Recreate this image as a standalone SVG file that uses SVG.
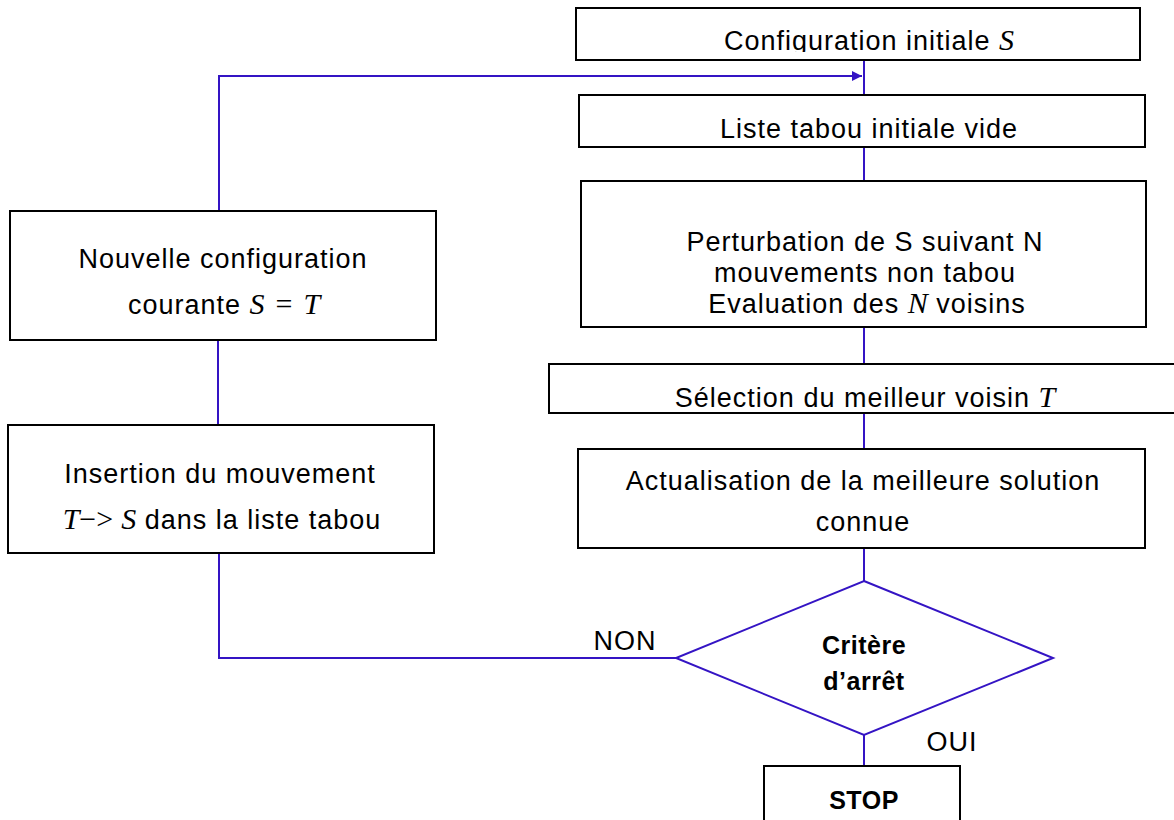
<svg xmlns="http://www.w3.org/2000/svg" width="1174" height="820" viewBox="0 0 1174 820">
  <defs>
    <marker id="arrow" viewBox="0 0 10 10" refX="10" refY="5" markerWidth="5" markerHeight="5" orient="auto" markerUnits="strokeWidth">
      <path d="M0,0 L10,5 L0,10 z" fill="#3414c4"/>
    </marker>
    <clipPath id="clipTop">
      <rect x="576" y="8" width="564" height="44"/>
    </clipPath>
  </defs>
  <style>
    .box { fill: #ffffff; stroke: #000000; stroke-width: 2; }
    .diamond { fill: #ffffff; stroke: #3414c4; stroke-width: 2; }
    .conn { fill: none; stroke: #3414c4; stroke-width: 2; }
    .t { font-family: "Liberation Sans", Arial, sans-serif; font-size: 27px; letter-spacing: 1px; fill: #000000; text-anchor: middle; }
    .b { font-weight: bold; font-size: 25px; letter-spacing: 0.5px; }
    .m { font-family: "Liberation Serif", "Times New Roman", serif; font-style: italic; font-size: 30px; letter-spacing: 0; }
    .op { font-family: "Liberation Serif", "Times New Roman", serif; font-style: normal; font-size: 30px; letter-spacing: 0; }
  </style>

  <rect width="1174" height="820" fill="#ffffff"/>

  <!-- connectors -->
  <g id="connectors">
    <line class="conn" x1="864" y1="60" x2="864" y2="95"/>
    <polyline class="conn" points="219,211 219,76 862,76" marker-end="url(#arrow)"/>
    <line class="conn" x1="864" y1="147" x2="864" y2="181"/>
    <line class="conn" x1="864" y1="327" x2="864" y2="364"/>
    <line class="conn" x1="864" y1="413" x2="864" y2="449"/>
    <line class="conn" x1="864" y1="548" x2="864" y2="581"/>
    <line class="conn" x1="864" y1="735" x2="864" y2="766"/>
    <polyline class="conn" points="676,658 219,658 219,553"/>
    <line class="conn" x1="218" y1="340" x2="218" y2="425"/>
    <text class="t" x="625" y="650">NON</text>
    <text class="t" x="952" y="751">OUI</text>
  </g>

  <g id="init-config">
    <rect class="box" x="576" y="8" width="564" height="52"/>
    <text class="t" x="869" y="50" clip-path="url(#clipTop)">Configuration initiale <tspan class="m">S</tspan></text>
  </g>

  <g id="tabu-init">
    <rect class="box" x="579" y="95" width="566" height="52"/>
    <text class="t" x="869" y="138">Liste tabou initiale vide</text>
  </g>

  <g id="perturbation">
    <rect class="box" x="581" y="181" width="565" height="146"/>
    <text class="t" x="865" y="251">Perturbation de S suivant N</text>
    <text class="t" x="865" y="282">mouvements non tabou</text>
    <text class="t" x="867" y="313">Evaluation des <tspan class="m">N</tspan> voisins</text>
  </g>

  <g id="best-neighbour">
    <rect class="box" x="549" y="364" width="630" height="49"/>
    <text class="t" x="865" y="407">Sélection du meilleur voisin <tspan class="m">T</tspan></text>
  </g>

  <g id="update-best">
    <rect class="box" x="578" y="449" width="567" height="99"/>
    <text class="t" x="863" y="490">Actualisation de la meilleure solution</text>
    <text class="t" x="863" y="531">connue</text>
  </g>

  <g id="stop-test">
    <polygon class="diamond" points="864,581 1053,658 864,735 676,658"/>
    <text class="t b" x="864" y="654">Critère</text>
    <text class="t b" x="864" y="690">d’arrêt</text>
  </g>

  <g id="stop">
    <rect class="box" x="764" y="766" width="196" height="70"/>
    <text class="t b" x="864" y="809">STOP</text>
  </g>

  <g id="new-config">
    <rect class="box" x="10" y="211" width="426" height="129"/>
    <text class="t" x="223" y="268">Nouvelle configuration</text>
    <text class="t" x="224" y="314">courante <tspan class="m">S</tspan><tspan class="op" dx="11">=</tspan><tspan class="m" dx="11">T</tspan></text>
  </g>

  <g id="tabu-insert">
    <rect class="box" x="8" y="425" width="426" height="128"/>
    <text class="t" x="220" y="483">Insertion du mouvement</text>
    <text class="t" x="222" y="529"><tspan class="m">T</tspan><tspan class="op">−&gt;</tspan><tspan class="m" dx="8">S</tspan> dans la liste tabou</text>
  </g>
</svg>
